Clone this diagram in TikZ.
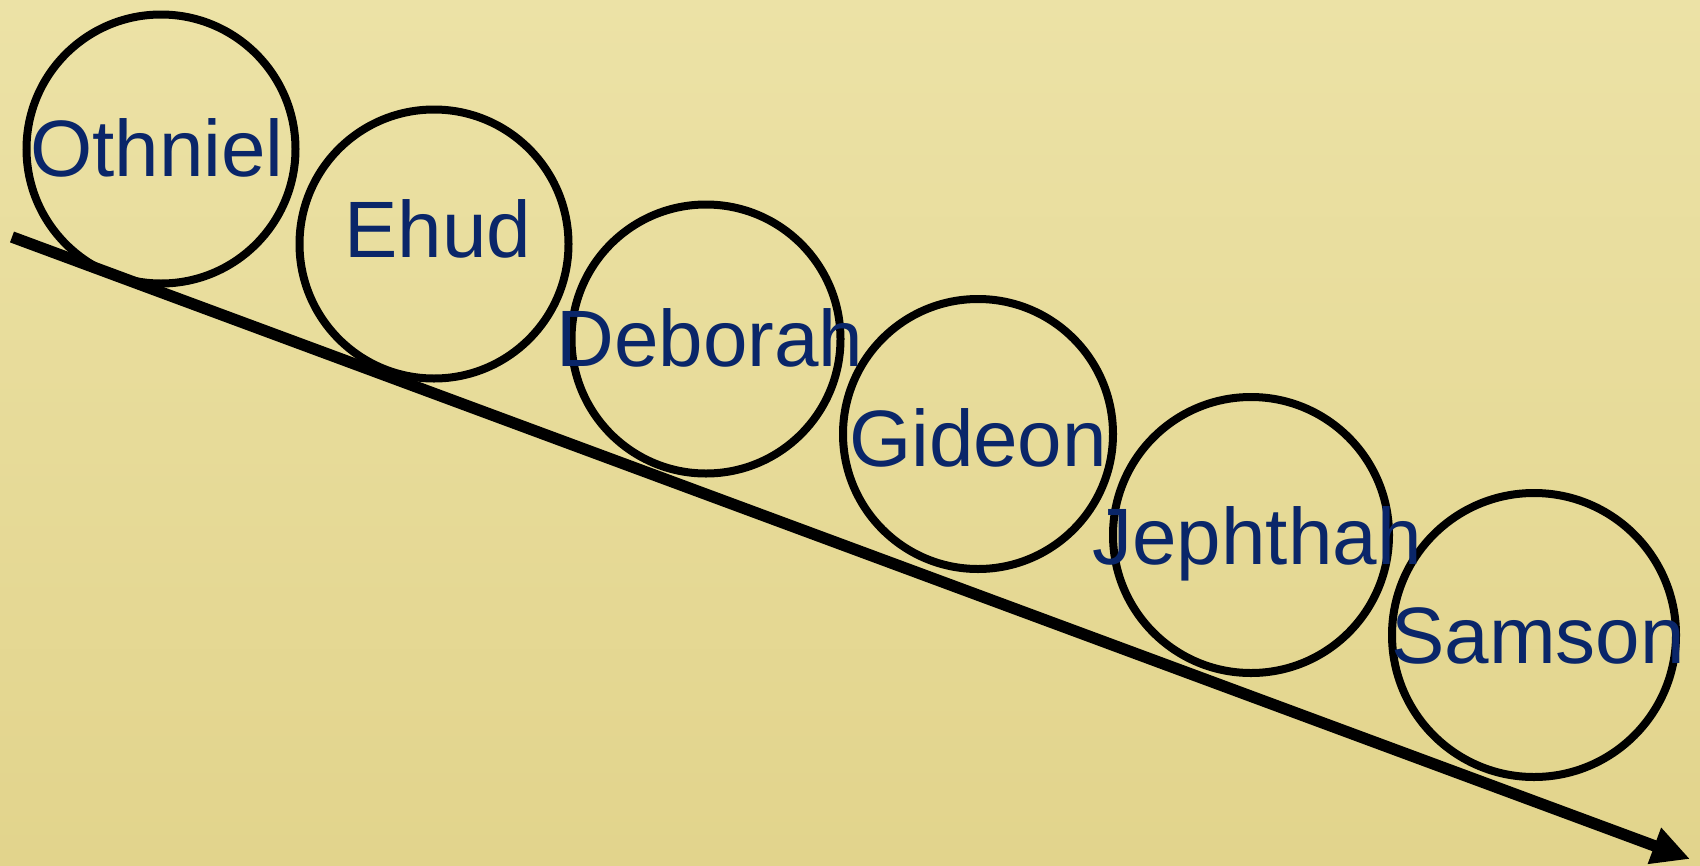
\documentclass[tikz,border=0pt]{standalone}
\usepackage{fontspec}
\setmainfont{Liberation Sans}
\usetikzlibrary{arrows.meta}
\definecolor{parch}{HTML}{E2D48C}
\definecolor{parchlight}{HTML}{ECE2A6}
\definecolor{navy}{HTML}{0A2669}
\tikzset{
  judge/.style={circle, draw=black, line width=8pt, inner sep=0pt},
  jname/.style={anchor=base, text=navy, inner sep=0pt, font=\fontsize{80}{96}\selectfont},
  timeline/.style={line width=11.5pt, -{Triangle[length=38pt,width=36pt]}}
}
\begin{document}
\begin{tikzpicture}[x=1pt,y=-1pt]
\useasboundingbox (0,0) rectangle (1700,865);
\shade[top color=parchlight, bottom color=parch] (0,0) rectangle (1700,865);
% circles
\node[judge, minimum size=269pt] (c1) at (161,149) {};
\node[judge, minimum size=269pt] (c2) at (434,244) {};
\node[judge, minimum size=269pt] (c3) at (706,339) {};
\node[judge, minimum size=270pt] (c4) at (978,434) {};
\node[judge, minimum size=276pt] (c5) at (1251,535) {};
\node[judge, minimum size=284pt] (c6) at (1534,635) {};
% names
\node[jname] (t1) at (157,176) {Othniel};
\node[jname] (t2) at (438,257) {Ehud};
\node[jname] (t3) at (710,366) {Deborah};
\node[jname] (t4) at (978,466) {Gideon};
\node[jname] (t5) at (1257,564) {Jephthah};
\node[jname] (t6) at (1538,663) {Samson};
% timeline arrow
\coordinate (start) at (12,237);
\coordinate (end) at (1690,859);
\draw[timeline] (start) -- (end);
\end{tikzpicture}
\end{document}
